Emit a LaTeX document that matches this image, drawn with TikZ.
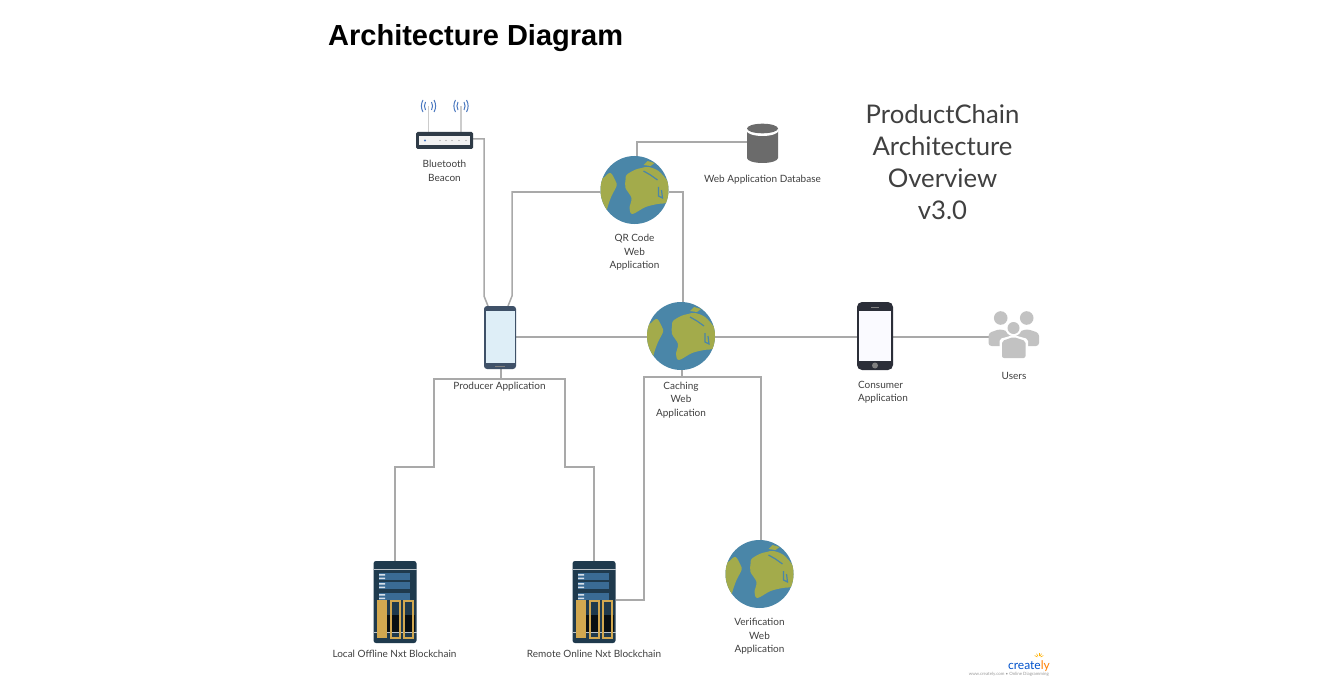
\documentclass[tikz,border=0pt]{standalone}
\usepackage{fontspec}
\setmainfont{Lato}
\newfontfamily\titlefont{Liberation Sans}
\usetikzlibrary{calc}
\definecolor{wireclr}{HTML}{A9A9A9}
\definecolor{labelclr}{HTML}{404040}
\definecolor{seaclr}{HTML}{4A86A8}
\definecolor{landclr}{HTML}{A3AB4B}
\definecolor{rackclr}{HTML}{1F3A4D}
\definecolor{slotclr}{HTML}{3A6B94}
\definecolor{goldclr}{HTML}{D2A850}
\definecolor{peopleclr}{HTML}{C2C2C2}
\definecolor{dbclr}{HTML}{6B6B6B}
\definecolor{signalclr}{HTML}{4A78C0}
\definecolor{beaconclr}{HTML}{2F3B47}
\definecolor{prodclr}{HTML}{3F5168}
\definecolor{prodscreen}{HTML}{DEEEF7}
\definecolor{consclr}{HTML}{2B2E38}
\tikzset{
  wire/.style={draw=wireclr, line width=1.5pt},
  hub/.style={circle, minimum size=68pt, inner sep=0pt},
  box/.style 2 args={rectangle, minimum width=#1pt, minimum height=#2pt, inner sep=0pt},
  lbl/.style={text=labelclr, font=\fontsize{10}{13.5}\selectfont, align=center, inner sep=0pt},
  globe/.pic={
    \fill[seaclr] (0,0) circle (34);
    \begin{scope}
      \clip (0,0) circle (34);
      \fill[landclr] plot[smooth cycle, tension=0.55] coordinates {(-9,-10) (-8,-15) (0,-20) (7,-22) (14,-23) (24,-19) (33,-9) (37,0) (33,12) (23,14) (11,17) (-2,24) (-5,18) (-3,8) (-9,-2)};
      \fill[landclr] plot[smooth cycle, tension=0.6] coordinates {(-36,-7) (-30,-13) (-24,-17) (-19,-9) (-18,-4) (-23,6) (-26,14) (-30,24) (-37,10)};
      \fill[landclr] (9,-25) -- (13,-29) -- (20,-27) -- (16,-24) -- cycle;
      \draw[seaclr, line width=1.2pt] (9,-19) -- (16,-15) -- (23,-10);
      \draw[seaclr, line width=1.2pt] (24,-3) -- (24,6) -- (28,8) -- (27,0);
    \end{scope}
  },
  rack/.pic={
    \fill[rackclr, rounded corners=2.5pt] (-21.5,-41) rectangle (21.5,41);
    \draw[white!70!rackclr, line width=0.6pt] (-21.5,-33) -- (21.5,-33);
    \foreach \ypos in {-29,-20,-9} {
      \fill[slotclr] (-16,\ypos) rectangle (15,\ypos+7);
      \fill[white!80!slotclr] (-16,\ypos+1) rectangle (-10,\ypos+2.5) (-16,\ypos+4.5) rectangle (-10,\ypos+6);
    }
    \fill[black!75!rackclr] (-9,13) rectangle (20,30);
    \fill[rackclr] (6,13) rectangle (8,30);
    \draw[white!70!rackclr, line width=0.6pt] (-21.5,30.5) -- (21.5,30.5);
    \fill[goldclr] (-18,-2) rectangle (-8,36);
    \draw[goldclr, line width=1.3pt] (-4,-1) rectangle (5,36) (9,-1) rectangle (18,36);
  },
}
\begin{document}
\begin{tikzpicture}[x=1pt, y=-1pt]
  \useasboundingbox[fill=white] (0,0) rectangle (1340,695);

  % Icon frames
  \node[box={57}{18}] (beacon) at (444.5,140.5) {};
  \node[box={31}{39}] (webdb) at (762.5,143.5) {};
  \node[hub] (qrapp) at (634.5,190) {};
  \node[hub] (cacheapp) at (681,336) {};
  \node[hub] (verifyapp) at (759.5,574) {};
  \node[box={32}{63}] (producer) at (500,337.5) {};
  \node[box={36}{68}] (consumer) at (875,336) {};
  \node[box={50}{46}] (users) at (1014,335) {};
  \node[box={43}{82}] (localchain) at (395,602) {};
  \node[box={43}{82}] (remotechain) at (594,602) {};

  % Free ends of the wires
  \coordinate (prodleft) at (488,306);
  \coordinate (prodright) at (508,306);
  \coordinate (prodbus) at (501,379);
  \coordinate (cachebus) at (682,377);

  % Wires
  \draw[wire] ([yshift=1.5pt]beacon.east) -- ++(11,0) -- (484,296) -- (prodleft);
  \draw[wire] (prodright) -- (512,296) -- (512,192) -- ([yshift=-2pt]qrapp.west);
  \draw[wire] ([xshift=2.5pt]qrapp.north) |- (webdb.west |- 0,142);
  \draw[wire] ([yshift=-2pt]qrapp.east) -- (683,192) -- ([xshift=2pt]cacheapp.north);
  \draw[wire] (producer.east |- 0,337) -- (cacheapp.west |- 0,337);
  \draw[wire] (cacheapp.east |- 0,337) -- (consumer.west |- 0,337);
  \draw[wire] (consumer.east |- 0,337) -- (users.west |- 0,337);
  \draw[wire] (501,369) -- (prodbus);
  \draw[wire] (prodbus) -- (434,379) -- (434,467) -- (395,467) -- (localchain.north);
  \draw[wire] (prodbus) -- (565,379) -- (565,467) -- (594,467) -- (remotechain.north);
  \draw[wire] (682,370) -- (cachebus);
  \draw[wire] (cachebus) -- (644,377) -- (644,600) -- (remotechain.east |- 0,600);
  \draw[wire] (cachebus) -- (761,377) -- (761,540);

  % Globes and racks
  \pic at (qrapp) {globe};
  \pic at (cacheapp) {globe};
  \pic at (verifyapp) {globe};
  \pic at (localchain) {rack};
  \pic at (remotechain) {rack};

  % Beacon
  \draw[black!20, line width=1.4pt] (428.5,132) -- (428.5,106) (461,132) -- (461,106);
  \fill[beaconclr, rounded corners=1.5pt] (416,132) rectangle (473,149);
  \fill[black!5] (419,136) rectangle (470,145);
  \fill[signalclr] (425,140.5) circle (1.2);
  \foreach \xpos in {440,446,452,459,466} {
    \fill[black!45] (\xpos,140.5) circle (0.6);
  }
  \foreach \xpos in {428.5,461} {
    \draw[signalclr, line width=1pt] (\xpos-3,110) arc[start angle=150, end angle=210, radius=8] (\xpos+3,110) arc[start angle=30, end angle=-30, radius=8];
    \draw[signalclr, line width=1pt] (\xpos-5.5,112) arc[start angle=150, end angle=210, radius=12] (\xpos+5.5,112) arc[start angle=30, end angle=-30, radius=12];
  }

  % Database
  \fill[dbclr] (747,130) -- (747,158) arc[x radius=15.5, y radius=5, start angle=180, end angle=0] -- (778,130) -- cycle;
  \fill[white] (762.5,130.5) ellipse[x radius=16, y radius=5.5];
  \fill[dbclr] (762.5,128.5) ellipse[x radius=15.5, y radius=4.8];

  % Producer phone
  \fill[prodclr, rounded corners=3pt] (484,306) rectangle (516,369);
  \fill[prodscreen] (485.5,311) rectangle (514.5,363);
  \fill[black!50] (495,365.5) rectangle (505,367);

  % Consumer phone
  \fill[consclr, rounded corners=5pt] (857,302) rectangle (893,370);
  \fill[blue!2] (859,311) rectangle (891,361);
  \fill[black!50] (875,365.5) circle (3);
  \fill[black!50] (871,306.5) rectangle (879,307.3);

  % Users
  \fill[peopleclr] (1000.7,318) circle (6.8) (1026.7,318) circle (6.8);
  \fill[peopleclr, rounded corners=3pt] (988.5,346) -- (988.5,333) -- (1000,329) -- (1012,333) -- (1012,346) -- cycle;
  \fill[peopleclr, rounded corners=3pt] (1015,346) -- (1015,333) -- (1027,329) -- (1039,333) -- (1039,346) -- cycle;
  \fill[white] (1013.5,328) circle (8.2);
  \fill[white, rounded corners=2pt] (999.5,360) -- (999.5,339) -- (1013.5,335) -- (1028,339) -- (1028,360) -- cycle;
  \fill[peopleclr] (1013.5,328) circle (6);
  \fill[peopleclr, rounded corners=2pt] (1002,358) -- (1002,341) -- (1013.5,337) -- (1025.5,341) -- (1025.5,358) -- cycle;

  % Title and heading
  \node[anchor=west, inner sep=0pt, font=\titlefont\bfseries\fontsize{29}{34}\selectfont] (title) at (328,38.5) {Architecture Diagram};
  \node[align=center, inner sep=0pt, text=labelclr, font=\fontsize{25.7}{32}\selectfont] (heading) at (942.5,162.5) {ProductChain\\Architecture\\Overview\\v3.0};

  % Labels
  \node[lbl] (beaconlbl) at (444.5,171) {Bluetooth\\Beacon};
  \node[lbl] (webdblbl) at (762.5,179.5) {Web Application Database};
  \node[lbl] (qrlbl) at (634.5,252.5) {QR Code\\Web\\Application};
  \node[lbl] (producerlbl) at (499.5,386.5) {Producer Application};
  \node[lbl] (cachelbl) at (681,400) {Caching\\Web\\Application};
  \node[lbl, align=left] (consumerlbl) at (883,392) {Consumer\\Application};
  \node[lbl] (userslbl) at (1014,375.5) {Users};
  \node[lbl] (locallbl) at (394.5,654) {Local Offline Nxt Blockchain};
  \node[lbl] (remotelbl) at (594,654) {Remote Online Nxt Blockchain};
  \node[lbl] (verifylbl) at (759.5,636.5) {Verification\\Web\\Application};

  % Logo
  \node[anchor=east, inner sep=0pt, font=\fontsize{12}{14}\selectfont] (logo) at (1050,666) {\textcolor{blue!60!cyan!80!black}{create}\textcolor{orange}{ly}};
  \node[anchor=east, inner sep=0pt, text=black!40, font=\fontsize{4.4}{5}\selectfont] (logotag) at (1049,674.5) {www.creately.com • Online Diagramming};
  \foreach \ang in {30,60,90,120,150} {
    \draw[orange!60!yellow, line width=0.6pt] ($(1039,658)+(\ang:-2)$) -- ($(1039,658)+(\ang:-5)$);
  }
\end{tikzpicture}
\end{document}
